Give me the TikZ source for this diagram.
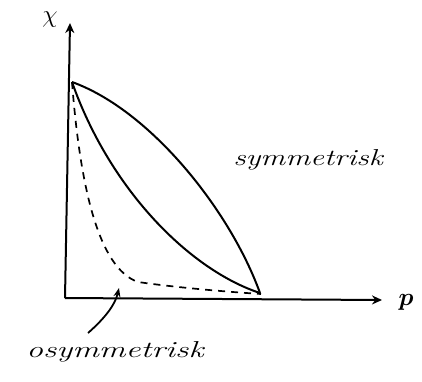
\documentclass[tikz,border=0pt]{standalone}
\usepackage{amsmath}
\usepackage{bm}
\usetikzlibrary{arrows.meta}
\begin{document}
\begin{tikzpicture}[x=1pt,y=-1pt,
  axis/.style={line width=2pt,-{Stealth[length=10pt,width=9pt]}},
  curve/.style={line width=2pt},
  dcurve/.style={line width=1.7pt,dash pattern=on 7pt off 6pt},
  lbl/.style={font=\itshape\fontsize{23}{23}\selectfont,inner sep=0pt},
  pointer/.style={line width=1.8pt,-{Stealth[length=9pt,width=7pt]}}]
\useasboundingbox (0,0) rectangle (422,381);
\coordinate (O) at (65,298);
\coordinate (Ytop) at (70,23);
\coordinate (Xend) at (382,300);
\coordinate (A) at (72,82);
\coordinate (B) at (260,293);
\coordinate (C) at (261,294);
\coordinate (M) at (138,282);
\coordinate (Pstart) at (88,333);
\coordinate (Ptip) at (119,288);
\draw[axis] (O) -- (Ytop);
\draw[axis] (O) -- (Xend);
\node[lbl,font=\fontsize{24}{24}\selectfont] (chi) at (50,20) {$\chi$};
\node[lbl,font=\fontsize{28}{28}\selectfont] (p) at (406,302) {$\bm{p}$};
\draw[curve] (A) .. controls (150,110) and (230,210) .. (B);
\draw[curve] (A) .. controls (110,190) and (190,270) .. (B);
\draw[dcurve] (A) .. controls (80,185) and (98,268) .. (M)
  .. controls (180,288) and (230,292) .. (C);
\draw[pointer] (Pstart) .. controls (105,318) and (115,305) .. (Ptip);
\node[lbl] (sym) at (308,160) {\scalebox{1.35}[1]{symmetrisk}};
\node[lbl] (asym) at (115,352) {\scalebox{1.45}[1]{osymmetrisk}};
\end{tikzpicture}
\end{document}
